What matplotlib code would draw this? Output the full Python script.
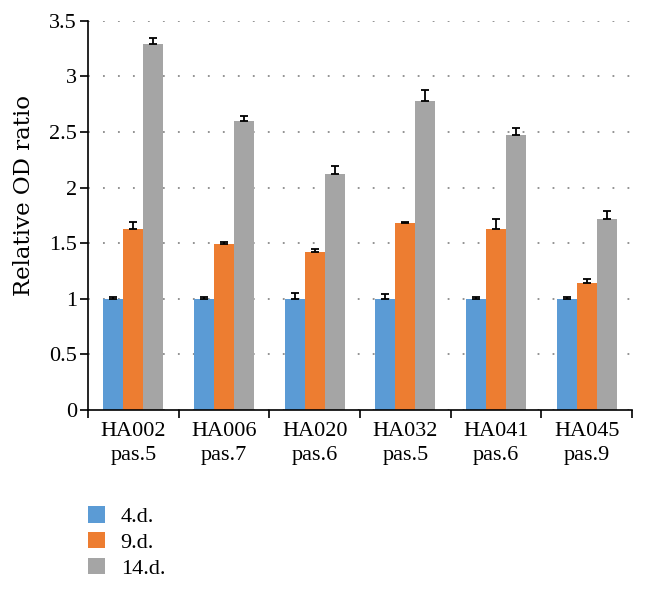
import matplotlib
matplotlib.use("Agg")
import matplotlib.pyplot as plt
import numpy as np
from matplotlib.patches import Patch

categories = ["HA002\npas.5", "HA006\npas.7", "HA020\npas.6", "HA032\npas.5", "HA041\npas.6", "HA045\npas.9"]
series_names = ["4.d.", "9.d.", "14.d."]
d4 = [1.0, 1.0, 1.0, 1.0, 1.0, 1.0]
d9 = [1.63, 1.49, 1.42, 1.68, 1.63, 1.14]
d14 = [3.29, 2.60, 2.12, 2.78, 2.475, 1.72]
err4 = [0.015, 0.02, 0.055, 0.045, 0.012, 0.02]
err9 = [0.06, 0.025, 0.025, 0.015, 0.085, 0.04]
err14 = [0.055, 0.04, 0.076, 0.094, 0.065, 0.072]
colors = ["#5b9bd5", "#ed7d31", "#a5a5a5"]
yticks = [0, 0.5, 1, 1.5, 2, 2.5, 3, 3.5]
ytick_labels = ["0", "0.5", "1", "1.5", "2", "2.5", "3", "3.5"]

plt.rcParams['font.family'] = ['Liberation Serif', 'DejaVu Serif']

fig = plt.figure(figsize=(6.47, 5.95), dpi=100)
ax = fig.add_axes([0.136, 0.311, 0.841, 0.654])

x = np.arange(len(categories))
w = 0.22
for i, (vals, errs) in enumerate(zip([d4, d9, d14], [err4, err9, err14])):
    pos = x + (i - 1) * w
    ax.bar(pos, vals, width=w, color=colors[i], zorder=2)
    ax.errorbar(pos, vals, yerr=[np.zeros(len(errs)), errs], fmt='none',
                ecolor='black', elinewidth=1.3, capsize=3, capthick=1.3, zorder=3)

ax.set_xlim(-0.5, len(categories) - 0.5)
ax.set_ylim(0, 3.5)
ax.set_yticks(yticks)
ax.set_yticklabels(ytick_labels, fontsize=16)
ax.set_xticks(np.arange(-0.5, len(categories)), minor=False)
ax.set_xticklabels([])
ax.set_xticks(x, minor=True)
ax.set_xticklabels(categories, minor=True, fontsize=16, linespacing=1.3)
ax.tick_params(axis='x', which='minor', length=0, pad=9)
ax.tick_params(axis='x', which='major', length=6, width=1.2, direction='out')
ax.tick_params(axis='y', length=6, width=1.2, direction='out', pad=2)
for s in ['top', 'right']:
    ax.spines[s].set_visible(False)
ax.spines['left'].set_linewidth(1.2)
ax.spines['bottom'].set_linewidth(1.2)
ax.yaxis.grid(True, linestyle=(0, (1, 7.3)), color='#8a8a8a', linewidth=1.3, zorder=0)
ax.set_axisbelow(True)
ax.set_ylabel("Relative OD ratio", fontsize=16.5, family=['DejaVu Serif'])
ax.yaxis.set_label_coords(-0.097, 0.55)

handles = [Patch(facecolor=c) for c in colors]
fig.legend(handles, series_names, loc='upper left', bbox_to_anchor=(88 / 647, 1 - 506 / 595),
           frameon=False, fontsize=16, handlelength=0.77, handleheight=0.77,
           labelspacing=0.22, handletextpad=0.7, borderpad=0, borderaxespad=0,
           bbox_transform=fig.transFigure)

fig.savefig("out.png", dpi=100)
